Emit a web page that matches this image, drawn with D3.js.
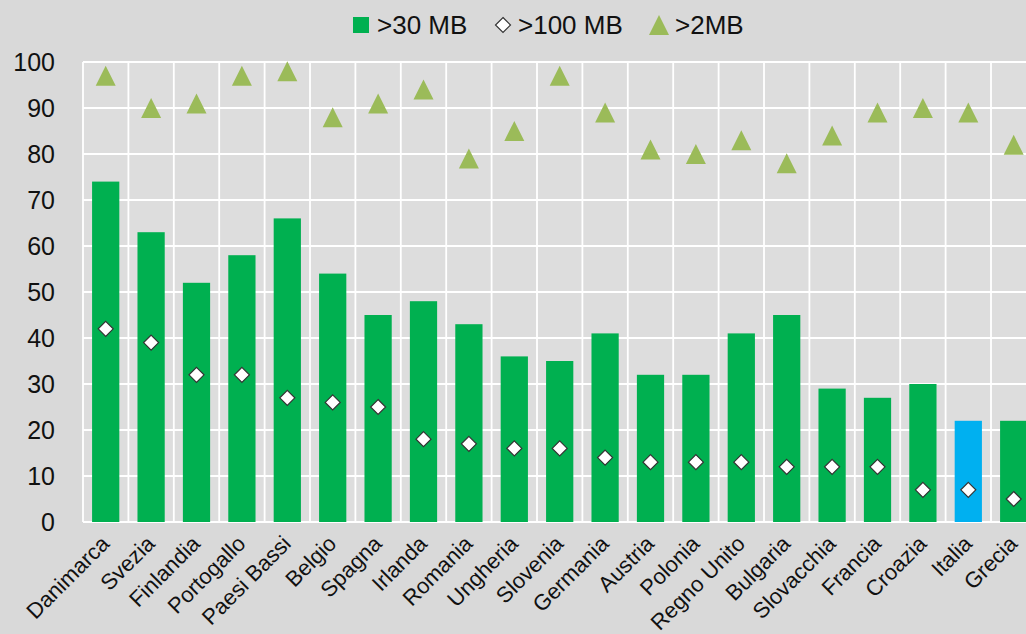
<!DOCTYPE html>
<meta charset="utf-8">
<style>
  body { margin: 0; background: #d9d9d9; }
  svg { display: block; font-family: "Liberation Sans", Arial, sans-serif; }
  .grid line { stroke: #fff; stroke-width: 1.8; }
  .ylab { font-size: 25px; fill: #111; }
  .xlab { font-size: 22px; fill: #111; }
  .legend text { font-size: 26px; fill: #111; }
</style>
<body>
<script src="https://d3js.org/d3.v7.min.js"></script>
<script>
  var countries = ["Danimarca", "Svezia", "Finlandia", "Portogallo", "Paesi Bassi", "Belgio", "Spagna",
    "Irlanda", "Romania", "Ungheria", "Slovenia", "Germania", "Austria", "Polonia", "Regno Unito",
    "Bulgaria", "Slovacchia", "Francia", "Croazia", "Italia", "Grecia"]
  var mb30 = [74, 63, 52, 58, 66, 54, 45, 48, 43, 36, 35, 41, 32, 32, 41, 45, 29, 27, 30, 22, 22]
  var mb100 = [42, 39, 32, 32, 27, 26, 25, 18, 17, 16, 16, 14, 13, 13, 13, 12, 12, 12, 7, 7, 5]
  var mb2 = [97, 90, 91, 97, 98, 88, 91, 94, 79, 85, 97, 89, 81, 80, 83, 78, 84, 89, 90, 89, 82]
  var yTicks = [0, 10, 20, 30, 40, 50, 60, 70, 80, 90, 100]
  var legendLabels = [">30 MB", ">100 MB", ">2MB"]

  var width = 1026, height = 634
  var plotLeft = 83, plotTop = 62, plotBottom = 522
  var step = 45.4

  var svg = d3.select('body').append('svg')
    .attr('width', width)
    .attr('height', height)

  var x = d3.scaleBand()
    .domain(countries)
    .range([plotLeft, plotLeft + step * countries.length])
    .padding(0)

  var y = d3.scaleLinear()
    .domain([0, 100])
    .range([plotBottom, plotTop])

  // plot area
  svg.append('rect')
    .attr('x', plotLeft).attr('y', plotTop)
    .attr('width', width - plotLeft).attr('height', plotBottom - plotTop)
    .attr('fill', '#dddddd')

  var grid = svg.append('g').attr('class', 'grid')
  grid.selectAll('.h')
    .data(yTicks)
    .enter().append('line')
    .attr('x1', plotLeft).attr('x2', width)
    .attr('y1', d => y(d)).attr('y2', d => y(d))
  grid.selectAll('.v')
    .data(countries)
    .enter().append('line')
    .attr('x1', d => x(d)).attr('x2', d => x(d))
    .attr('y1', plotTop).attr('y2', plotBottom)

  // bars
  var bw = x.bandwidth() * 0.6
  svg.append('g')
    .selectAll('rect')
    .data(countries)
    .enter().append('rect')
    .attr('x', d => x(d) + (x.bandwidth() - bw) / 2)
    .attr('width', bw)
    .attr('y', (d, i) => y(mb30[i]))
    .attr('height', (d, i) => y(0) - y(mb30[i]))
    .attr('fill', d => d === 'Italia' ? '#00b0f0' : '#00b050')

  var cx = d => x(d) + x.bandwidth() / 2
  var triPath = 'M0,-10L10,10L-10,10Z'
  var diaPath = 'M0,-7.5L7.5,0L0,7.5L-7.5,0Z'

  // >2MB triangles
  svg.append('g')
    .selectAll('path')
    .data(countries)
    .enter().append('path')
    .attr('d', triPath)
    .attr('transform', (d, i) => 'translate(' + cx(d) + ',' + y(mb2[i]) + ')')
    .attr('fill', '#9bbb59')

  // >100 MB diamonds
  svg.append('g')
    .selectAll('path')
    .data(countries)
    .enter().append('path')
    .attr('d', diaPath)
    .attr('transform', (d, i) => 'translate(' + cx(d) + ',' + y(mb100[i]) + ')')
    .attr('fill', '#fff')
    .attr('stroke', '#333')
    .attr('stroke-width', 1.2)

  // y labels
  svg.append('g')
    .selectAll('text')
    .data(yTicks)
    .enter().append('text')
    .attr('class', 'ylab')
    .attr('x', 55)
    .attr('y', d => y(d))
    .attr('dy', '0.35em')
    .attr('text-anchor', 'end')
    .text(d => d)

  // x labels
  svg.append('g')
    .selectAll('text')
    .data(countries)
    .enter().append('text')
    .attr('class', 'xlab')
    .attr('text-anchor', 'end')
    .attr('transform', d => 'translate(' + (cx(d) + 5) + ',' + 545 + ') rotate(-45)')
    .text(d => d)

  // legend
  var lg = svg.append('g').attr('class', 'legend')
  var ly = 25
  lg.append('rect')
    .attr('x', 353).attr('y', ly - 8)
    .attr('width', 16).attr('height', 16)
    .attr('fill', '#00b050')
  lg.append('path')
    .attr('d', diaPath)
    .attr('transform', 'translate(503,' + ly + ')')
    .attr('fill', '#fff').attr('stroke', '#333').attr('stroke-width', 1.2)
  lg.append('path')
    .attr('d', triPath)
    .attr('transform', 'translate(659,' + ly + ')')
    .attr('fill', '#9bbb59')
  lg.selectAll('.lt')
    .data(legendLabels)
    .enter().append('text')
    .attr('x', (d, i) => [377, 518, 675][i])
    .attr('y', ly)
    .attr('dy', '0.35em')
    .text(d => d)
</script>
</body>
